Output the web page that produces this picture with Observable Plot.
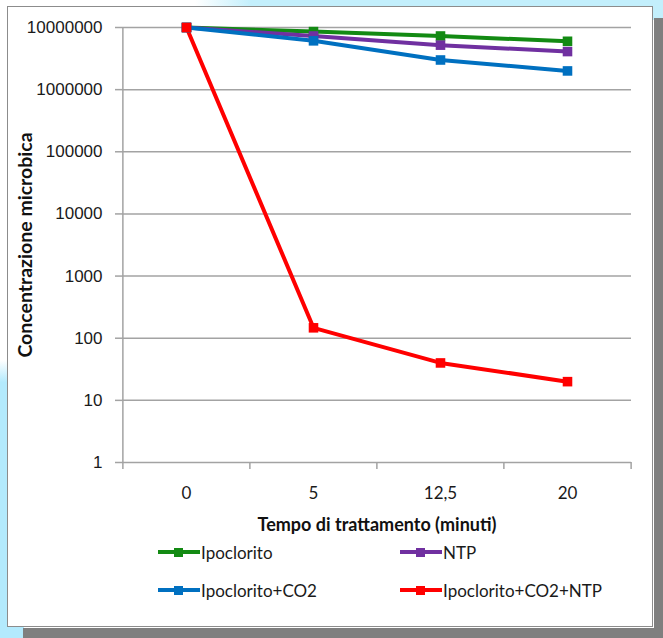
<!DOCTYPE html>
<html><head><meta charset="utf-8">
<script src="https://cdn.jsdelivr.net/npm/d3@7"></script>
<script src="https://cdn.jsdelivr.net/npm/@observablehq/plot@0.6"></script>
<style>
body{margin:0;background:#fff;}
#page{position:relative;width:663px;height:638px;overflow:hidden;background:#fff;}
.deco{position:absolute;}
#panel{position:absolute;left:7px;top:6px;width:644px;height:619px;background:#fff;border:1.5px solid #8c8c8c;}
#chart{position:absolute;left:0;top:0;}
#chart svg{overflow:visible;background:transparent;}
.item{position:absolute;display:flex;align-items:center;height:24px;font-family:Lato,sans-serif;font-size:17px;color:#1a1a1a;}
.sw{position:relative;width:42px;height:24px;margin-right:1px;}
.sw .ln{position:absolute;left:0;top:10px;width:42px;height:4px;}
.sw .mk{position:absolute;left:16px;top:7.5px;width:9px;height:9px;}
</style></head><body>
<div id="page">
  <div class="deco" style="left:195px;top:0;width:468px;height:8px;background:linear-gradient(to right,rgba(190,238,252,0),#c3effc 12%)"></div>
  <div class="deco" style="left:650px;top:0;width:13px;height:20px;background:#c3effc"></div>
  <div class="deco" style="left:0;top:360px;width:9px;height:278px;background:linear-gradient(to bottom,rgba(180,234,252,0),#b3eafd 8%)"></div>
  <div class="deco" style="left:0;top:620px;width:24px;height:18px;background:#b3eafd"></div>
  <div class="deco" style="left:654px;top:18px;width:9px;height:620px;background:#7f7f7f"></div>
  <div class="deco" style="left:23px;top:628px;width:640px;height:10px;background:#7f7f7f"></div>
  <div id="panel"></div>
  <div id="chart"></div>
  <div id="legend"></div>
</div>
<script>
// ---- data ----
const categories = ["0", "5", "12,5", "20"];
const seriesNames = ["Ipoclorito", "NTP", "Ipoclorito+CO2", "Ipoclorito+CO2+NTP"];
const ipoclorito = [10000000, 8600000, 7300000, 6000000];
const ntp = [10000000, 7300000, 5200000, 4100000];
const ipocloritoCO2 = [10000000, 6100000, 3000000, 2000000];
const ipocloritoCO2NTP = [10000000, 147, 40, 20];
const yTicks = [1, 10, 100, 1000, 10000, 100000, 1000000, 10000000];
const yTickLabels = ["1", "10", "100", "1000", "10000", "100000", "1000000", "10000000"];
const seriesColors = ["#138a13", "#7030a0", "#0070c0", "#ff0000"];
const xTitle = "Tempo di trattamento (minuti)";
const yTitle = "Concentrazione microbica";

const seriesValues = [ipoclorito, ntp, ipocloritoCO2, ipocloritoCO2NTP];
const rows = [];
seriesNames.forEach((s, i) => categories.forEach((c, j) => rows.push({series: s, t: c, v: seriesValues[i][j]})));

// ---- layout ----
const W = 663, H = 540, mL = 122, mR = 32, mT = 27, mB = 78;
const bw = (W - mL - mR) / categories.length;
const fh = H - mT - mB;
const gridColor = "#a3a3a3";

const chart = Plot.plot({
  width: W, height: H,
  marginLeft: mL, marginRight: mR, marginTop: mT, marginBottom: mB,
  style: {background: "transparent", overflow: "visible"},
  x: {type: "point", domain: categories, padding: 0.5},
  y: {type: "log", domain: [1, 10000000]},
  color: {domain: seriesNames, range: seriesColors},
  marks: [
    Plot.ruleY(yTicks, {y: d => d, stroke: gridColor, strokeWidth: 1.5}),
    Plot.axisY({ticks: yTicks, tickFormat: (d) => yTickLabels[yTicks.indexOf(d)], tickSize: 7, tickPadding: 13, stroke: gridColor, strokeWidth: 1.5, strokeOpacity: 1, fontSize: 17, fontFamily: "'Liberation Sans', Arial, sans-serif", fill: "#1a1a1a", label: null}),
    Plot.ruleX([categories[0]], {x: d => d, dx: -bw / 2, insetBottom: -7, stroke: gridColor, strokeWidth: 1.5}),
    Plot.ruleX(categories.slice(1), {x: d => d, dx: -bw / 2, insetTop: fh, insetBottom: -7, stroke: gridColor, strokeWidth: 1.5}),
    Plot.ruleX([categories[categories.length - 1]], {x: d => d, dx: bw / 2, insetTop: fh, insetBottom: -7, stroke: gridColor, strokeWidth: 1.5}),
    Plot.axisX({tickSize: 0, tickPadding: 24, fontSize: 17, fontFamily: "Lato, sans-serif", fill: "#1a1a1a", label: null}),
    Plot.text([xTitle], {frameAnchor: "bottom", dy: 63, lineAnchor: "middle", fontSize: 18, fontWeight: "bold", fontFamily: "Lato, sans-serif", fill: "#111"}),
    Plot.text([yTitle], {frameAnchor: "left", dx: -97, rotate: -90, textAnchor: "middle", lineAnchor: "middle", fontSize: 19.5, fontWeight: "bold", fontFamily: "Lato, sans-serif", fill: "#111"}),
    Plot.line(rows, {x: "t", y: "v", z: "series", stroke: "series", strokeWidth: 4, strokeLinejoin: "round"}),
    Plot.dot(rows, {x: "t", y: "v", fill: "series", symbol: "square", r: 5.4})
  ]
});
document.getElementById("chart").appendChild(chart);

// ---- legend (HTML, below the svg) ----
const legend = document.getElementById("legend");
const legendPos = [[158, 540], [400, 540], [158, 578], [400, 578]];
seriesNames.forEach((s, i) => {
  const it = document.createElement("div");
  it.className = "item";
  it.style.left = legendPos[i][0] + "px";
  it.style.top = legendPos[i][1] + "px";
  it.innerHTML = `<div class="sw"><div class="ln" style="background:${seriesColors[i]}"></div><div class="mk" style="background:${seriesColors[i]}"></div></div><span>${s}</span>`;
  legend.appendChild(it);
});
</script>
</body></html>
